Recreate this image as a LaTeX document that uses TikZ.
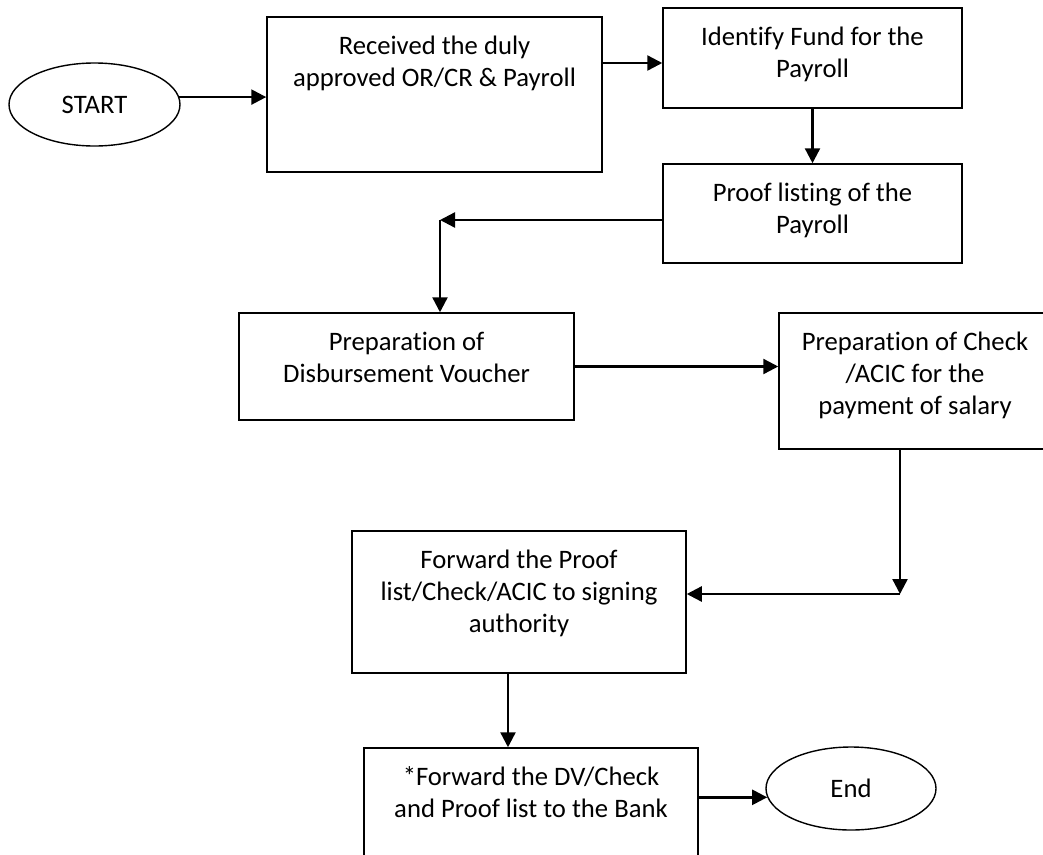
\documentclass[tikz,border=0pt]{standalone}
\usepackage{fontspec}
\setmainfont{Carlito}[Ligatures=CommonOff]
\usetikzlibrary{arrows.meta,shapes.geometric}

\tikzset{
    box/.style={draw,line width=1.5pt,inner sep=0pt,align=flush center,text height=37pt},
    term/.style={draw,ellipse,line width=1.4pt,inner sep=0pt},
    flow/.style={-{Triangle[length=15pt,width=15pt]},line width=2.4pt},
}

\begin{document}
\begin{tikzpicture}[x=1pt,y=-1pt,font=\fontsize{26.67}{32}\selectfont]
        \useasboundingbox (0,0) rectangle (1043,854);
        \clip (0,0) rectangle (1043,854);

        \node[term,minimum width=171pt,minimum height=83pt] at (94.5,104.5) (start) {START};
        \node[term,minimum width=170pt,minimum height=83pt] at (851,788.5) (stop) {End};

        \node[box,text width=335pt,text depth=118pt] at (434.5,94.5) (recv) {Received the duly\\approved OR/CR \& Payroll};
        \node[box,text width=299pt,text depth=63pt] at (812.5,58) (fund) {Identify Fund for the\\Payroll};
        \node[box,text width=299pt,text depth=62pt] at (812.5,213.5) (proof) {Proof listing of the\\Payroll};
        \node[box,text width=335pt,text depth=70pt] at (406.5,366.5) (dv) {Preparation of\\Disbursement Voucher};
        \node[box,text width=272pt,text depth=99pt] at (915,381) (chk) {Preparation of Check\\/ACIC for the\\payment of salary};
        \node[box,text width=334pt,text depth=105pt] at (519,602) (fwd) {Forward the Proof\\list/Check/ACIC to signing\\authority};
        \node[box,text width=334pt,text depth=115pt] at (531,824) (bank) {*Forward the DV/Check\\and Proof list to the Bank};

        \coordinate (fundin) at ([yshift=-5pt]fund.west);
        \coordinate (turn1) at (440,220);
        \coordinate (turn2) at (900,594);
        \coordinate (fwdout) at ([xshift=-11pt]fwd.south);

        \path[flow]
        (start.5) edge (start.5 -| recv.west)
        (fundin -| recv.east) edge (fundin)
        (fund) edge (proof)
        (proof.west |- turn1) edge (turn1)
        (turn1) edge (turn1 |- dv.north)
        (dv.east) edge (dv.east -| chk.west)
        (chk.south -| turn2) edge (turn2)
        (turn2) edge (fwd.east |- turn2)
        (fwdout) edge (fwdout |- bank.north)
        (stop.186 -| bank.east) edge (stop.186)
        ;
\end{tikzpicture}
\end{document}
